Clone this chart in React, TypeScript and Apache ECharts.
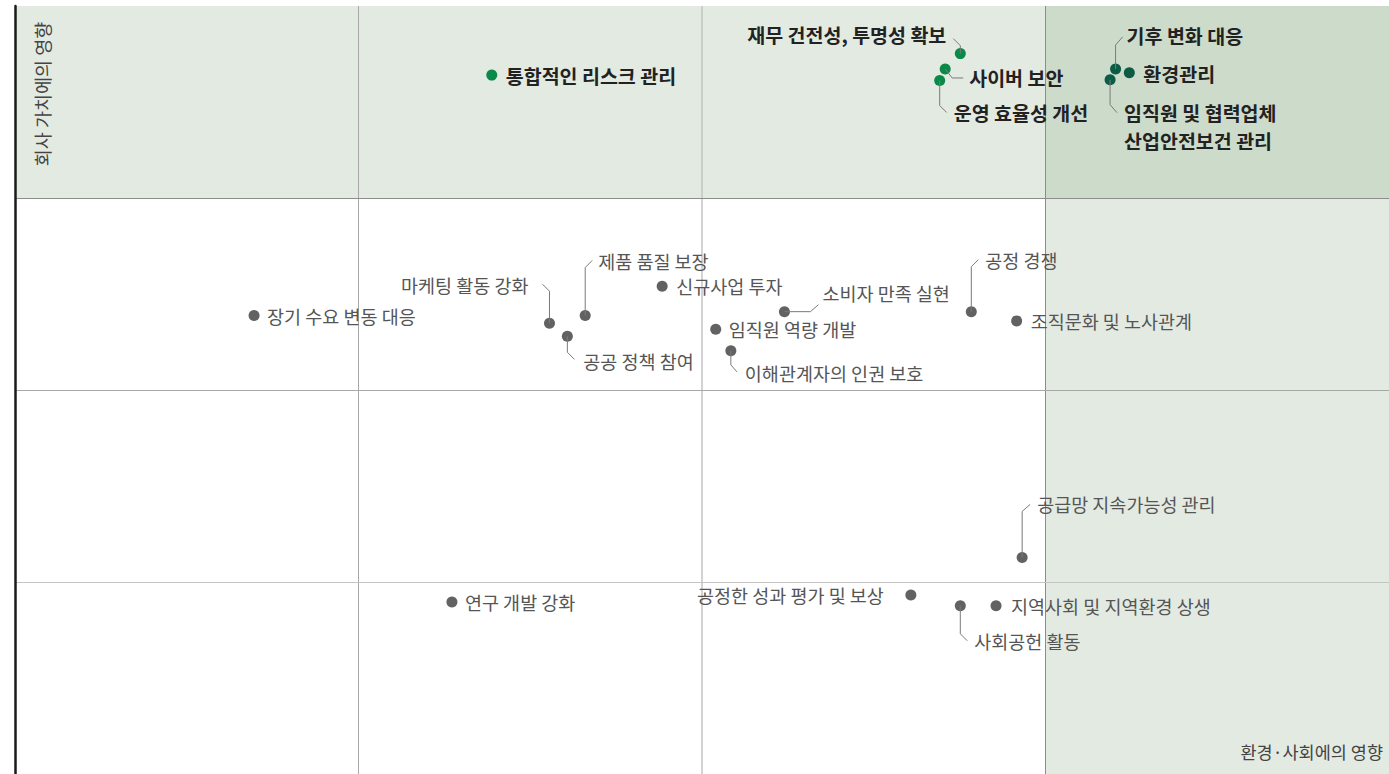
import React, { useEffect, useRef } from "react";
import * as echarts from "echarts";

// Topics of the materiality matrix
const topics: string[] = [
  "통합적인 리스크 관리",
  "재무 건전성, 투명성 확보",
  "사이버 보안",
  "운영 효율성 개선",
  "기후 변화 대응",
  "환경관리",
  "임직원 및 협력업체\n산업안전보건 관리",
  "장기 수요 변동 대응",
  "마케팅 활동 강화",
  "제품 품질 보장",
  "공공 정책 참여",
  "신규사업 투자",
  "소비자 만족 실현",
  "임직원 역량 개발",
  "이해관계자의 인권 보호",
  "공정 경쟁",
  "조직문화 및 노사관계",
  "공급망 지속가능성 관리",
  "연구 개발 강화",
  "공정한 성과 평가 및 보상",
  "사회공헌 활동",
  "지역사회 및 지역환경 상생",
];

// 환경·사회에의 영향 (x)
const envSocialImpact: number[] = [
  34.7, 68.8, 67.7, 67.3, 80.1, 81.1, 79.7,
  17.4, 38.9, 41.5, 40.2, 47.1, 56.0, 51.0, 52.1, 69.6, 72.9,
  73.3, 31.8, 65.2, 68.8, 71.4,
];

// 회사 가치에의 영향 (y)
const financialImpact: number[] = [
  91.0, 93.8, 91.8, 90.3, 91.8, 91.3, 90.4,
  59.7, 58.7, 59.7, 57.0, 63.5, 60.2, 57.9, 55.1, 60.2, 59.0,
  28.2, 22.4, 23.3, 21.9, 21.9,
];

// tier: 0 = core (green), 1 = core (dark green), 2 = other
const tier: number[] = [
  0, 0, 0, 0, 1, 1, 1,
  2, 2, 2, 2, 2, 2, 2, 2, 2, 2,
  2, 2, 2, 2, 2,
];

const axisTicks: number[] = [0, 25, 50, 75, 100];
const yAxisTitle = "회사 가치에의 영향";
const xAxisTitle = "환경·사회에의 영향";

// label placement (style only): leader polyline offsets and text offsets in px
type Layout = { leader?: number[][]; tx: number; ty: number; align: "left" | "right" };
const layouts: Layout[] = [
  { tx: 14, ty: 0, align: "left" },
  { leader: [[0, 0], [0, -8], [-7, -15]], tx: -14, ty: -19, align: "right" },
  { leader: [[0, 0], [7, 9], [18, 9]], tx: 24, ty: 9, align: "left" },
  { leader: [[0, 0], [0, 25], [7, 32]], tx: 14, ty: 32, align: "left" },
  { leader: [[0, 0], [0, -24], [7, -32]], tx: 11, ty: -33, align: "left" },
  { tx: 14, ty: 1, align: "left" },
  { leader: [[0, 0], [0, 25], [7, 33]], tx: 14, ty: 47, align: "left" },
  { tx: 13, ty: 0, align: "left" },
  { leader: [[0, 0], [0, -32], [-7, -39]], tx: -21, ty: -38, align: "right" },
  { leader: [[0, 0], [0, -48], [7, -55]], tx: 13, ty: -55, align: "left" },
  { leader: [[0, 0], [0, 16], [7, 23]], tx: 16, ty: 25, align: "left" },
  { tx: 14, ty: 0, align: "left" },
  { leader: [[0, 0], [26, 0], [34, -7]], tx: 38, ty: -19, align: "left" },
  { tx: 13, ty: 0, align: "left" },
  { leader: [[0, 0], [0, 14], [6, 21]], tx: 14, ty: 22, align: "left" },
  { leader: [[0, 0], [0, -45], [7, -52]], tx: 14, ty: -52, align: "left" },
  { tx: 14, ty: 0, align: "left" },
  { leader: [[0, 0], [0, -46], [8, -53]], tx: 15, ty: -53, align: "left" },
  { tx: 13, ty: 0, align: "left" },
  { tx: -27, ty: 0, align: "right" },
  { leader: [[0, 0], [0, 28], [7, 35]], tx: 14, ty: 35, align: "left" },
  { tx: 15, ty: 0, align: "left" },
];

const dotColors = ["#0a8a48", "#0c5b45", "#626262"];
const FONT = '"Noto Sans CJK KR", "Noto Sans", sans-serif';

export default function App() {
  const ref = useRef<HTMLDivElement>(null);

  useEffect(() => {
    if (!ref.current) return;
    const chart = echarts.init(ref.current, null, { renderer: "svg" });

    const scatterData = topics.map((name, i) => ({
      name,
      value: [envSocialImpact[i], financialImpact[i]],
      itemStyle: { color: dotColors[tier[i]], opacity: 1 },
    }));

    const labelData = topics.map((_, i) => [envSocialImpact[i], financialImpact[i], i]);

    const lightBg = "#e3eae2";
    const darkBg = "#cddbcb";

    const option: any = {
      animation: false,
      backgroundColor: "#ffffff",
      grid: { left: 15, right: -2, top: 6, bottom: -1, containLabel: false },
      xAxis: {
        type: "value",
        min: axisTicks[0],
        max: axisTicks[axisTicks.length - 1],
        interval: 25,
        axisLine: { show: false },
        axisTick: { show: false },
        axisLabel: { show: false },
        splitLine: { show: false },
      },
      yAxis: {
        type: "value",
        z: 10,
        min: axisTicks[0],
        max: axisTicks[axisTicks.length - 1],
        interval: 25,
        axisLine: { show: true, onZero: false, lineStyle: { color: "#1a1a1a", width: 2.5 } },
        axisTick: { show: false },
        axisLabel: { show: false },
        splitLine: { show: false },
      },
      series: [
        {
          type: "scatter",
          name: "topics",
          symbol: "circle",
          symbolSize: 11,
          z: 3,
          itemStyle: { opacity: 1 },
          data: scatterData,
          markArea: {
            silent: true,
            z: 1,
            data: [
              [
                { xAxis: axisTicks[0], yAxis: axisTicks[3], itemStyle: { color: lightBg, opacity: 1 } },
                { xAxis: axisTicks[3], yAxis: axisTicks[4] },
              ],
              [
                { xAxis: axisTicks[3], yAxis: axisTicks[0], itemStyle: { color: lightBg, opacity: 1 } },
                { xAxis: axisTicks[4], yAxis: axisTicks[3] },
              ],
              [
                { xAxis: axisTicks[3], yAxis: axisTicks[3], itemStyle: { color: darkBg, opacity: 1 } },
                { xAxis: axisTicks[4], yAxis: axisTicks[4] },
              ],
            ],
          },
          markLine: {
            silent: true,
            symbol: ["none", "none"],
            label: { show: false },
            z: 2,
            data: [
              { xAxis: axisTicks[1], lineStyle: { color: "#a8a8a8", width: 1, type: "solid" } },
              { xAxis: axisTicks[2], lineStyle: { color: "#c4c4c4", width: 1.5, type: "solid" } },
              { xAxis: axisTicks[3], lineStyle: { color: "#8c8c8c", width: 1, type: "solid" } },
              { yAxis: axisTicks[1], lineStyle: { color: "#c4c4c4", width: 1.2, type: "solid" } },
              { yAxis: axisTicks[2], lineStyle: { color: "#a8a8a8", width: 1, type: "solid" } },
              { yAxis: axisTicks[3], lineStyle: { color: "#8c8c8c", width: 1, type: "solid" } },
            ],
          },
        },
        {
          type: "custom",
          name: "labels",
          z: 4,
          silent: true,
          data: labelData,
          encode: { x: 0, y: 1 },
          renderItem: (params: any, api: any) => {
            const i = api.value(2);
            const p = api.coord([api.value(0), api.value(1)]);
            const L = layouts[i];
            const isCore = tier[i] !== 2;
            const children: any[] = [];
            if (L.leader) {
              children.push({
                type: "polyline",
                shape: { points: L.leader.map(([dx, dy]) => [p[0] + dx, p[1] + dy]) },
                style: { stroke: "#7a7a7a", lineWidth: 1, fill: null },
              });
            }
            children.push({
              type: "text",
              x: p[0] + L.tx,
              y: p[1] + L.ty,
              style: {
                text: topics[i],
                fill: isCore ? "#222222" : "#555555",
                font: isCore ? `bold 19.5px ${FONT}` : `18.5px ${FONT}`,
                align: L.align,
                verticalAlign: "middle",
                lineHeight: 28,
              },
            });
            return { type: "group", children };
          },
        },
      ],
      graphic: [
        {
          type: "text",
          x: 42,
          y: 94,
          rotation: Math.PI / 2,
          style: {
            text: yAxisTitle,
            fill: "#444444",
            font: `18.5px ${FONT}`,
            align: "center",
            verticalAlign: "middle",
          },
          z: 10,
        },
        {
          type: "text",
          x: 1383,
          y: 751,
          style: {
            text: xAxisTitle,
            fill: "#444444",
            font: `17.5px ${FONT}`,
            align: "right",
            verticalAlign: "middle",
          },
          z: 10,
        },
      ],
    };

    chart.setOption(option);
    return () => chart.dispose();
  }, []);

  return (
    <div
      ref={ref}
      style={{ position: "absolute", left: 0, top: 0, width: 1389, height: 774 }}
    />
  );
}
